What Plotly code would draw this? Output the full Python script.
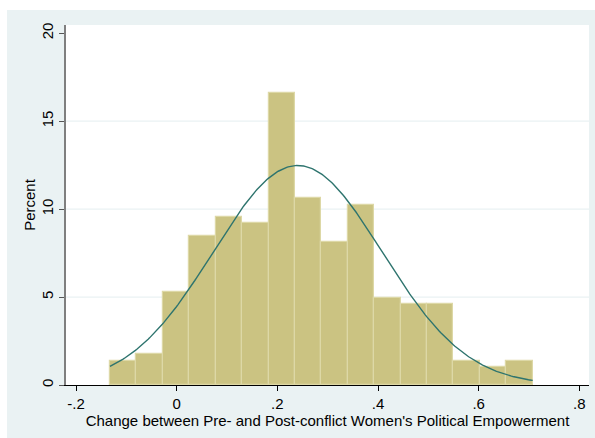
import plotly.graph_objects as go
import numpy as np

# ---- data ----
bin_start = -0.1326
bin_width = 0.0525
percent = [1.36, 1.76, 5.28, 8.47, 9.55, 9.19, 16.63, 10.62,
           8.13, 10.25, 4.92, 4.58, 4.58, 1.35, 1.0, 1.35]
normal_mean = 0.2404
normal_sd = 0.1678

x_tickvals = [-0.2, 0.0, 0.2, 0.4, 0.6, 0.8]
x_ticktext = ["-.2", "0", ".2", ".4", ".6", ".8"]
y_tickvals = [0, 5, 10, 15, 20]
y_ticktext = ["0", "5", "10", "15", "20"]
y_gridvals = [5, 10, 15]

x_title = "Change between Pre- and Post-conflict Women's Political Empowerment"
y_title = "Percent"

# ---- derived ----
n = len(percent)
lefts = [bin_start + i * bin_width for i in range(n)]
bin_end = bin_start + n * bin_width
xs = np.linspace(bin_start, bin_end, 300)
dens = 100 * bin_width * np.exp(-0.5 * ((xs - normal_mean) / normal_sd) ** 2) / (normal_sd * np.sqrt(2 * np.pi))

BG = "#EAF2F3"
FONT = "Liberation Sans, Arial, Helvetica, sans-serif"

fig = go.Figure()
fig.add_trace(go.Bar(
    x=lefts, y=percent, width=bin_width, offset=0,
    marker=dict(color="#CBC382", line=dict(color="#DDD8A6", width=1.2)),
    hoverinfo="skip", showlegend=False,
))
fig.add_trace(go.Scatter(
    x=xs, y=dens, mode="lines",
    line=dict(color="#2E746E", width=1.4),
    hoverinfo="skip", showlegend=False,
))

shapes = []
# white outer margin strips (top and left)
shapes.append(dict(type="rect", xref="paper", yref="paper",
                   x0=-0.2, x1=1.05, y0=1.0417, y1=1.2,
                   fillcolor="white", line=dict(width=0), layer="below"))
shapes.append(dict(type="rect", xref="paper", yref="paper",
                   x0=-0.2, x1=-0.1128, y0=-0.2, y1=1.2,
                   fillcolor="white", line=dict(width=0), layer="below"))
for g in y_gridvals:
    shapes.append(dict(type="line", xref="paper", yref="y", x0=0, x1=1, y0=g, y1=g,
                       line=dict(color=BG, width=1.2), layer="below"))

fig.update_layout(
    width=595, height=438,
    margin=dict(l=66, r=6, t=25, b=53),
    paper_bgcolor=BG, plot_bgcolor="white",
    font=dict(family=FONT, size=15, color="black"),
    bargap=0,
    shapes=shapes,
    xaxis=dict(
        range=[-0.22, 0.8193],
        tickvals=x_tickvals, ticktext=x_ticktext,
        ticks="outside", ticklen=5, tickcolor="black", tickwidth=1,
        showline=True, linecolor="black", linewidth=1.2,
        showgrid=False, zeroline=False,
        title=dict(text=x_title, font=dict(size=15), standoff=0),
        tickfont=dict(size=15),
    ),
    yaxis=dict(
        range=[0, 20.47],
        tickvals=y_tickvals, ticktext=y_ticktext, tickangle=-90,
        ticks="outside", ticklen=5, tickcolor="#555555", tickwidth=1,
        showline=True, linecolor="#7f7f7f", linewidth=1.5,
        showgrid=False, zeroline=False,
        title=dict(text=y_title, font=dict(size=15), standoff=0),
        tickfont=dict(size=15),
    ),
)

fig.write_html("out.html")
